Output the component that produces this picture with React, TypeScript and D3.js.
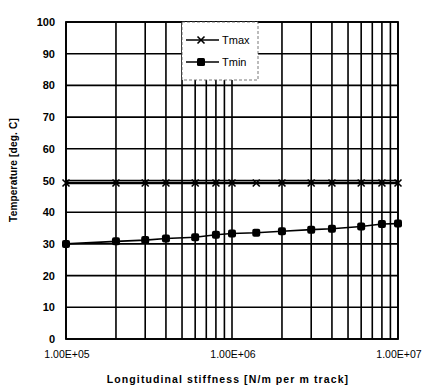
import React from "react";
import * as d3 from "d3";

const stiffness = [1e5, 2e5, 3e5, 4e5, 6e5, 8e5, 1e6, 1.4e6, 2e6, 3e6, 4e6, 6e6, 8e6, 1e7];
const tmax = [49.2, 49.2, 49.2, 49.2, 49.2, 49.2, 49.2, 49.2, 49.2, 49.2, 49.2, 49.2, 49.2, 49.2];
const tmin = [30.0, 30.8, 31.2, 31.7, 32.1, 32.9, 33.3, 33.5, 34.0, 34.5, 34.8, 35.5, 36.3, 36.4];
const yTicks = [0, 10, 20, 30, 40, 50, 60, 70, 80, 90, 100];
const xTicks = [1e5, 1e6, 1e7];
const xTickLabels = ["1.00E+05", "1.00E+06", "1.00E+07"];
const seriesNames = ["Tmax", "Tmin"];

const W = 428, H = 390;
const L = 66, R = 398, T = 22, B = 339;

export default function App() {
  const x = d3.scaleLog().domain([1e5, 1e7]).range([L, R]);
  const y = d3.scaleLinear().domain([0, 100]).range([B, T]);
  const minorX: number[] = [];
  for (let e = 5; e < 7; e++) for (let m = 1; m < 10; m++) minorX.push(m * Math.pow(10, e));
  minorX.push(1e7);
  const line = d3.line<[number, number]>().x(d => x(d[0])).y(d => y(d[1]));
  const maxPts: [number, number][] = stiffness.map((s, i) => [s, tmax[i]]);
  const minPts: [number, number][] = stiffness.map((s, i) => [s, tmin[i]]);
  const font = "'Liberation Sans', Arial, sans-serif";
  const lgX = 182, lgY = 22, lgW = 76, lgH = 58;
  const xMark = (cx: number, cy: number, s: number, k: string) => (
    <g key={k} stroke="#000" strokeWidth={1.6}>
      <line x1={cx - s} y1={cy - s} x2={cx + s} y2={cy + s} />
      <line x1={cx - s} y1={cy + s} x2={cx + s} y2={cy - s} />
    </g>
  );
  return (
    <svg width={W} height={H} style={{ position: "absolute", left: 0, top: 0, background: "#fff" }}>
      <rect x={0} y={0} width={W} height={H} fill="#fff" />
      {yTicks.map(t => (
        <line key={"gy" + t} x1={L} x2={R} y1={y(t)} y2={y(t)} stroke="#000" strokeWidth={1.6} />
      ))}
      {minorX.map(v => (
        <line key={"gx" + v} x1={x(v)} x2={x(v)} y1={T} y2={B} stroke="#000" strokeWidth={1.6} />
      ))}
      <rect x={L} y={T} width={R - L} height={B - T} fill="none" stroke="#000" strokeWidth={1.8} />
      <path d={line(maxPts) || ""} fill="none" stroke="#000" strokeWidth={2.6} />
      {maxPts.map((p, i) => xMark(x(p[0]), y(p[1]), 3.5, "mx" + i))}
      <path d={line(minPts) || ""} fill="none" stroke="#000" strokeWidth={1.6} />
      {minPts.map((p, i) => (
        <rect key={"mn" + i} x={x(p[0]) - 4} y={y(p[1]) - 4} width={8} height={8} rx={2} fill="#000" />
      ))}
      <rect x={lgX} y={lgY} width={lgW} height={lgH} fill="#fff" stroke="#555" strokeWidth={0.8} strokeDasharray="3,2" />
      <line x1={186} x2={219} y1={40} y2={40} stroke="#000" strokeWidth={1.5} />
      {xMark(201, 40, 3.5, "lgx")}
      <text x={222} y={44} fontFamily={font} fontSize={11} fill="#000">{seriesNames[0]}</text>
      <line x1={186} x2={219} y1={62} y2={62} stroke="#000" strokeWidth={1.5} />
      <rect x={197} y={58} width={8} height={8} rx={1.5} fill="#000" />
      <text x={222} y={66} fontFamily={font} fontSize={11} fill="#000">{seriesNames[1]}</text>
      {yTicks.map(t => (
        <text key={"yl" + t} x={55} y={y(t) + 4} textAnchor="end" fontFamily={font} fontSize={11} fontWeight="bold" fill="#000">{t}</text>
      ))}
      {xTicks.map((t, i) => (
        <text key={"xl" + t} x={x(t) + 1} y={358} textAnchor="middle" fontFamily={font} fontSize={10.5} fill="#000">{xTickLabels[i]}</text>
      ))}
      <text x={228} y={383} textAnchor="middle" fontFamily={font} fontSize={10.5} fontWeight="bold" letterSpacing={1.1} fill="#000">Longitudinal stiffness [N/m per m track]</text>
      <text transform={`translate(17,170) rotate(-90)`} textAnchor="middle" fontFamily={font} fontSize={10} fontWeight="bold" letterSpacing={0.2} fill="#000">Temperature [deg. C]</text>
    </svg>
  );
}
